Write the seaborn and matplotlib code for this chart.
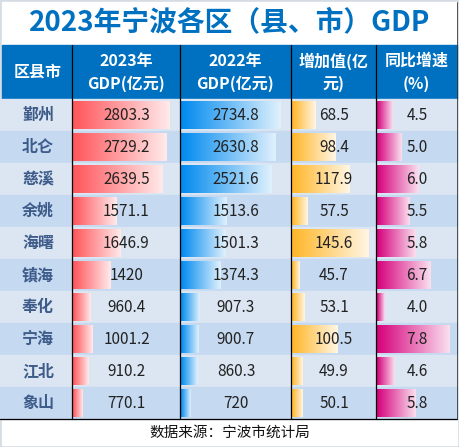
import numpy as np
import matplotlib.pyplot as plt
import seaborn as sns
from matplotlib.colors import LinearSegmentedColormap, to_rgb
from matplotlib.patches import Rectangle

sns.set_style("white")
plt.rcParams['font.family'] = ['Noto Sans CJK SC', 'DejaVu Sans']

# ---- data ----
districts = ['鄞州', '北仑', '慈溪', '余姚', '海曙', '镇海', '奉化', '宁海', '江北', '象山']
gdp_2023 = [2803.3, 2729.2, 2639.5, 1571.1, 1646.9, 1420, 960.4, 1001.2, 910.2, 770.1]
gdp_2022 = [2734.8, 2630.8, 2521.6, 1513.6, 1501.3, 1374.3, 907.3, 900.7, 860.3, 720]
increase = [68.5, 98.4, 117.9, 57.5, 145.6, 45.7, 53.1, 100.5, 49.9, 50.1]
growth = [4.5, 5.0, 6.0, 5.5, 5.8, 6.7, 4.0, 7.8, 4.6, 5.8]
headers = [['区县市'], ['2023年', 'GDP(亿元)'], ['2022年', 'GDP(亿元)'],
           ['增加值(亿', '元)'], ['同比增速', '(%)']]
title = '2023年宁波各区（县、市）GDP'
source = '数据来源：宁波市统计局'

# ---- layout (pixels) ----
W, H = 460, 447
col_edges = [2, 72, 180, 291, 376, 457]
title_top, head_top, rows_top, rows_bot, foot_bot = 2, 45, 99, 419, 445
row_h = (rows_bot - rows_top) / len(districts)

blue = '#0070C0'
name_color = '#3E5C8A'
row_colors = ['#DCE6F2', '#C5D9F1']
bar_colors = ['#FF555A', '#008AEF', '#FFB628', '#D6007B']

fig = plt.figure(figsize=(W / 100, H / 100), dpi=100, facecolor='#D5DCE4')


def px_axes(x0, y0, x1, y1):
    return fig.add_axes([x0 / W, 1 - y1 / H, (x1 - x0) / W, (y1 - y0) / H])


# background: title, header, row bands, footer
bg = px_axes(0, 0, W, H)
bg.set_xlim(0, W)
bg.set_ylim(H, 0)
bg.axis('off')
bg.add_patch(Rectangle((2, title_top), 455, foot_bot - title_top, color='white'))
bg.add_patch(Rectangle((2, head_top), 455, rows_top - head_top, color=blue))
for i in range(len(districts)):
    bg.add_patch(Rectangle((0, rows_top + i * row_h), 457, row_h,
                           color=row_colors[i % 2]))
    bg.text(col_edges[0] / 2 + col_edges[1] / 2 + 1, rows_top + (i + 0.5) * row_h,
            districts[i], ha='center', va='center', fontsize=11.5,
            fontweight='bold', color=name_color)

bg.text(230, 22, title, ha='center', va='center', fontsize=20,
        fontweight='bold', color=blue)
for j, lines in enumerate(headers):
    cx = (col_edges[j] + col_edges[j + 1]) / 2
    if len(lines) == 1:
        bg.text(cx + 1, 72, lines[0], ha='center', va='center', fontsize=11.5,
                fontweight='bold', color='white')
    else:
        bg.text(cx, 61, lines[0], ha='center', va='center', fontsize=11.5,
                fontweight='bold', color='white')
        bg.text(cx, 84, lines[1], ha='center', va='center', fontsize=11.5,
                fontweight='bold', color='white')
bg.text(230, 433, source, ha='center', va='center', fontsize=10.5, color='#111111')

# data bar columns
columns = [gdp_2023, gdp_2022, increase, growth]
grad = np.linspace(0, 1, 256).reshape(1, -1)
for k, vals in enumerate(columns):
    ax = px_axes(col_edges[k + 1] + 1, rows_top, col_edges[k + 2], rows_bot)
    sns.barplot(x=vals, y=districts, orient='h', width=0.86, ax=ax,
                color=bar_colors[k])
    # excel style: shortest bar ~9%, longest ~90% of the cell
    span = (max(vals) - min(vals)) / 0.815
    lo = min(vals) - 0.09 * span
    hi = lo + span
    c = np.array(to_rgb(bar_colors[k]))
    cmap = LinearSegmentedColormap.from_list('g', [c, c * 0.12 + 0.88])
    for p in ax.patches:
        x1 = p.get_x() + p.get_width()
        y0, h = p.get_y(), p.get_height()
        ax.imshow(grad, cmap=cmap, aspect='auto', extent=(lo, x1, y0 + h, y0),
                  zorder=2, interpolation='bilinear')
        p.set_visible(False)
    ax.set_xlim(lo, hi)
    ax.set_ylim(len(districts) - 0.5, -0.5)
    ax.axis('off')
    ax.patch.set_alpha(0)
    for i, v in enumerate(vals):
        label = f'{v:.1f}' if k == 3 else f'{v:g}'
        ax.text(0.5, i, label, transform=ax.get_yaxis_transform(), ha='center',
                va='center', fontsize=11, color='#222222', zorder=5)

# grid lines on top
ov = px_axes(0, 0, W, H)
ov.set_xlim(0, W)
ov.set_ylim(H, 0)
ov.axis('off')
ov.patch.set_alpha(0)
for x in col_edges[1:-1]:
    ov.plot([x, x], [head_top, rows_bot], color='black', lw=0.9)
ov.plot([0, 457], [rows_bot, rows_bot], color='black', lw=0.9)
ov.plot([457, 457], [title_top, rows_bot], color='#333333', lw=0.6)

fig.savefig('out.png', dpi=100, facecolor=fig.get_facecolor())
